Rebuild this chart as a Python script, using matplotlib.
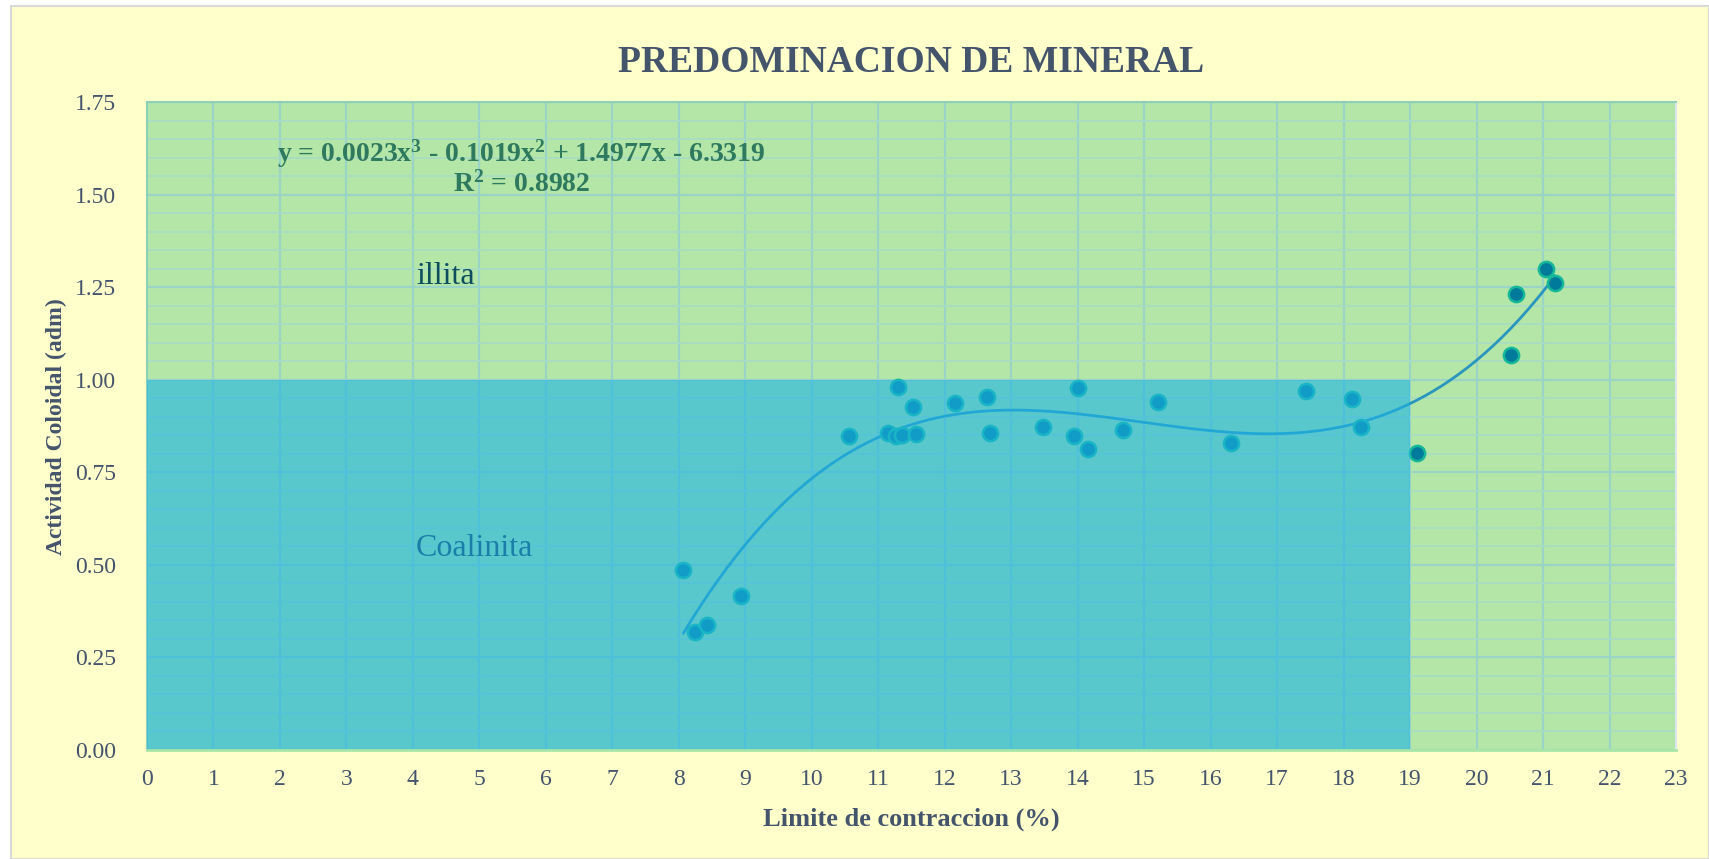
import matplotlib.pyplot as plt
import numpy as np
from matplotlib.patches import Rectangle
from matplotlib.ticker import MultipleLocator

# limite de contraccion (%) vs actividad coloidal
lim_contraccion = [8.07, 8.25, 8.42, 8.94, 10.56, 11.15, 11.29, 11.27, 11.35, 11.53,
                   11.57, 12.16, 12.63, 12.68, 13.48, 13.94, 14.01, 14.16, 14.68, 15.21,
                   16.31, 17.44, 18.13, 18.26, 19.11, 20.52, 20.60, 21.05, 21.18]
actividad = [0.486, 0.318, 0.339, 0.415, 0.849, 0.857, 0.981, 0.849, 0.852, 0.928,
             0.854, 0.937, 0.955, 0.857, 0.872, 0.849, 0.978, 0.813, 0.866, 0.940,
             0.831, 0.969, 0.949, 0.872, 0.804, 1.067, 1.232, 1.299, 1.261]

# zona coalinita
zona_x = [0, 19]
zona_y = [0, 1.0]

ecuacion = "y = 0.0023x$^{3}$ - 0.1019x$^{2}$ + 1.4977x - 6.3319"
r2_txt = "R$^{2}$ = 0.8982"

plt.rcParams['font.family'] = ['Liberation Serif', 'DejaVu Serif']
plt.rcParams['mathtext.fontset'] = 'custom'
plt.rcParams['mathtext.rm'] = 'Liberation Serif:bold'
plt.rcParams['mathtext.it'] = 'Liberation Serif:bold'
plt.rcParams['mathtext.bf'] = 'Liberation Serif:bold'

fig = plt.figure(figsize=(17.09, 8.59), dpi=100)
fig.patch.set_facecolor('white')
fig.patches.append(Rectangle((11 / 1709, 0), 1 - 11 / 1709, 1 - 6 / 859,
                             transform=fig.transFigure, facecolor='#FFFFCC',
                             edgecolor='#D9D9D9', linewidth=1.5, zorder=-10))

ax = fig.add_axes([0.086, 0.1269, 0.8947, 0.7538])
ax.set_facecolor('#B3E6A7')

# trend line (cubic)
coef = np.polyfit(lim_contraccion, actividad, 3)
xs = np.linspace(min(lim_contraccion), max(lim_contraccion), 200)
ax.plot(xs, np.polyval(coef, xs), color='#2A96BE', lw=2, zorder=3)

ax.scatter(lim_contraccion, actividad, s=120, color='#007A9A', edgecolors='#14B898',
           linewidths=1.8, zorder=4)

# overlay zone
ax.add_patch(Rectangle((zona_x[0], zona_y[0]), zona_x[1] - zona_x[0], zona_y[1] - zona_y[0],
                       facecolor='#1EB4E6', alpha=0.6, edgecolor='none', zorder=5))

ax.set_xlim(0, 23)
ax.set_ylim(0, 1.75)
ax.xaxis.set_major_locator(MultipleLocator(1))
ax.yaxis.set_minor_locator(MultipleLocator(0.05))
ax.set_yticks(np.arange(0, 1.76, 0.25))
ax.set_yticklabels([f"{v:.2f}" for v in np.arange(0, 1.76, 0.25)])
ax.grid(which='major', color='#9AD4C6', lw=1.6, zorder=1)
ax.grid(which='minor', axis='y', color='#A6DCC6', lw=1.2, zorder=1)
ax.set_axisbelow(True)
ax.tick_params(which='both', length=0)
ax.tick_params(axis='x', pad=14, labelsize=17, labelcolor='#44546A')
ax.tick_params(axis='y', pad=22, labelsize=17, labelcolor='#44546A')

for s in ['left', 'top']:
    ax.spines[s].set_color('#8FD0B8')
    ax.spines[s].set_linewidth(1.5)
ax.spines['right'].set_color('#DDE6EE')
ax.spines['right'].set_linewidth(1.5)
ax.spines['bottom'].set_color('#A8E6A8')
ax.spines['bottom'].set_linewidth(2)
ax.spines['bottom'].set_zorder(6)

ax.set_xlabel("Limite de contraccion (%)", fontsize=19, fontweight='bold',
              color='#44546A', labelpad=12)
ax.set_ylabel("Actividad Coloidal (adm)", fontsize=17, fontweight='bold',
              color='#44546A', labelpad=6)

fig.text(0.533, 0.927, "PREDOMINACION DE MINERAL", ha='center', va='center',
         fontsize=27, fontweight='bold', color='#44546A')

ax.text(5.63, 1.612, ecuacion, ha='center', va='center', fontsize=20,
        fontweight='bold', color='#2F7A5E', zorder=7)
ax.text(5.63, 1.53, r2_txt, ha='center', va='center', fontsize=20,
        fontweight='bold', color='#2F7A5E', zorder=7)
ax.text(4.05, 1.28, "illita", ha='left', va='center', fontsize=23, color='#0E4D5E', zorder=7)
ax.text(4.05, 0.545, "Coalinita", ha='left', va='center', fontsize=23, color='#1A7FA8', zorder=7)

fig.savefig("out.png", dpi=100, facecolor=fig.get_facecolor())
